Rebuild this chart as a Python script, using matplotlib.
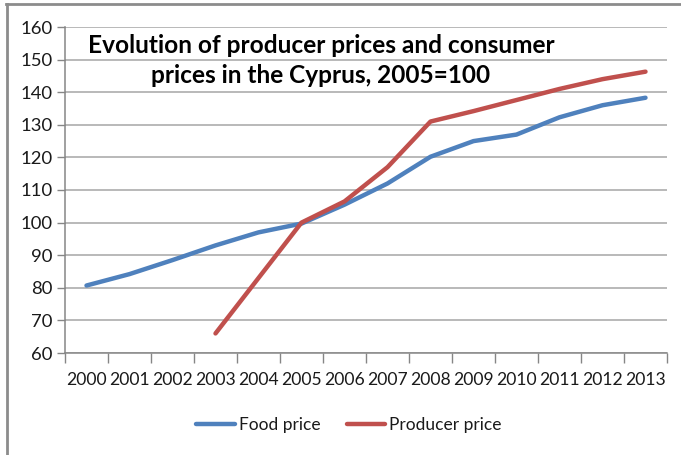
import matplotlib.pyplot as plt
from matplotlib.lines import Line2D

years = [str(y) for y in range(2000, 2014)]
food_price = [80.7, 84.2, 88.5, 93.0, 97.0, 99.7, 105.5, 112.0, 120.2, 125.0, 127.0, 132.3, 136.0, 138.3]
producer_years = years[3:]
producer_price = [66.0, 83.0, 100.0, 106.5, 117.0, 131.0, 134.2, 137.6, 141.0, 144.0, 146.3]

BLUE = "#4F81BD"
RED = "#C0504D"
GRID = "#A6A6A6"
TXT = "#1a1a1a"

plt.rcParams["font.family"] = ["Lato", "DejaVu Sans"]

W, H = 681, 455
fig = plt.figure(figsize=(W / 100, H / 100), dpi=100)
ax = fig.add_axes([65 / W, 1 - 353 / H, 602 / W, 326 / H])

x_food = list(range(len(years)))
x_prod = [years.index(y) for y in producer_years]
ax.plot(x_food, food_price, color=BLUE, lw=3.2, solid_capstyle="round", label="Food price")
ax.plot(x_prod, producer_price, color=RED, lw=3.2, solid_capstyle="round", label="Producer price")

ax.set_xlim(-0.5, len(years) - 0.5)
ax.set_ylim(60, 160)
ax.set_yticks(range(60, 161, 10))
ax.set_xticks(x_food)
ax.set_xticklabels(years)
ax.set_xticks([i - 0.5 for i in range(len(years) + 1)], minor=True)
ax.tick_params(axis="x", which="major", length=0, pad=14, labelsize=12.6, colors=TXT)
ax.tick_params(axis="x", which="minor", length=7, width=1, color="#868686", direction="out")
ax.tick_params(axis="y", length=6, width=1, color="#868686", labelsize=13.3, colors=TXT, pad=3)
ax.yaxis.grid(True, color=GRID, lw=1.1)
ax.set_axisbelow(True)
for s in ["top", "right"]:
    ax.spines[s].set_visible(False)
for s in ["left", "bottom"]:
    ax.spines[s].set_color("#868686")
    ax.spines[s].set_linewidth(1.1)

ax.text(0.425, 0.897, "Evolution of producer prices and consumer\nprices in the Cyprus, 2005=100",
        transform=ax.transAxes, ha="center", va="center", fontsize=17.6,
        fontweight="bold", color="black", linespacing=1.4)

fig.legend(loc="center", bbox_to_anchor=(349 / W, 1 - 425 / H), ncol=2, frameon=False,
           fontsize=12.5, handlelength=2.2, handletextpad=0.25, columnspacing=1.5,
           labelcolor=TXT)

fig.add_artist(Line2D([6 / W, 1], [1 - 4 / H, 1 - 4 / H], color="#8c8c8c", lw=2))
fig.add_artist(Line2D([7 / W, 7 / W], [0, 1 - 4 / H], color="#8c8c8c", lw=2))

fig.savefig("out.png", dpi=100)
